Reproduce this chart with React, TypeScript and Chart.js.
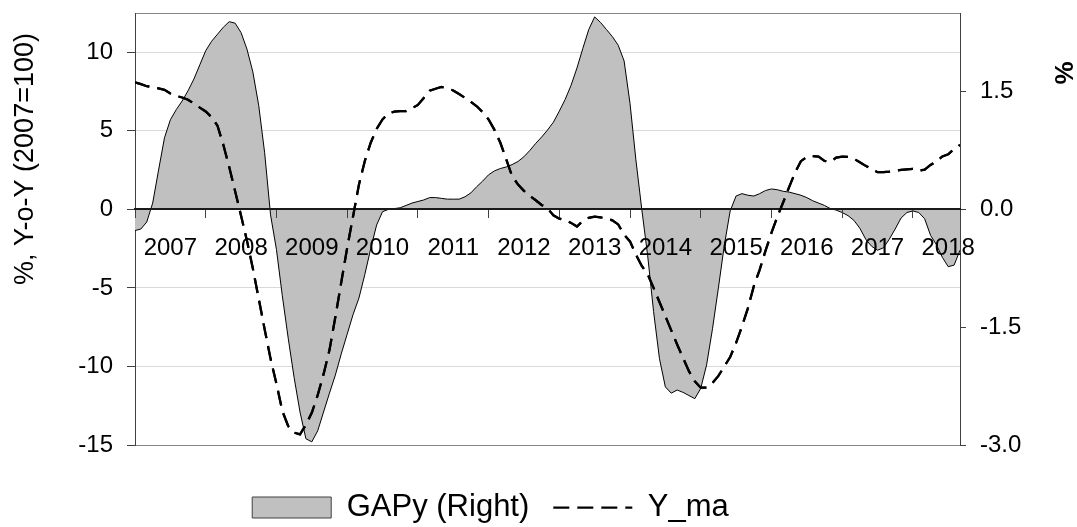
import React, { useEffect, useRef } from 'react';
import { Chart, registerables } from 'chart.js';

Chart.register(...registerables);

const FONT = '"Liberation Sans", Arial, Helvetica, sans-serif';

// Year categories (one label per year, 12 monthly points per year)
const years = ['2007', '2008', '2009', '2010', '2011', '2012', '2013', '2014', '2015', '2016', '2017', '2018'];
const monthsPerYear = 12;

// GAPy (right axis, %) – monthly from Jan 2007
const gapy = [
  -0.27, -0.25, -0.16, 0.08, 0.5, 0.91, 1.14, 1.27, 1.38, 1.51,
  1.66, 1.84, 2.02, 2.14, 2.23, 2.32, 2.39, 2.37, 2.25, 2.04,
  1.75, 1.32, 0.72, -0.07, -0.51, -1.1, -1.64, -2.14, -2.58, -2.92,
  -2.96, -2.82, -2.58, -2.34, -2.11, -1.84, -1.59, -1.34, -1.13, -0.83,
  -0.5, -0.2, -0.03, 0.0, 0.01, 0.02, 0.05, 0.08, 0.1, 0.12,
  0.15, 0.15, 0.14, 0.13, 0.13, 0.13, 0.16, 0.21, 0.29, 0.36,
  0.44, 0.49, 0.52, 0.54, 0.57, 0.61, 0.67, 0.75, 0.84, 0.92,
  1.01, 1.11, 1.25, 1.4, 1.58, 1.8, 2.05, 2.29, 2.45, 2.38,
  2.29, 2.2, 2.09, 1.89, 1.35, 0.63, 0.0, -0.59, -1.3, -1.9,
  -2.26, -2.34, -2.3, -2.33, -2.37, -2.41, -2.28, -1.98, -1.52, -1.0,
  -0.46, -0.02, 0.17, 0.2, 0.18, 0.17, 0.2, 0.24, 0.26, 0.25,
  0.23, 0.22, 0.2, 0.18, 0.15, 0.11, 0.08, 0.05, 0.01, -0.01,
  -0.04, -0.08, -0.14, -0.24, -0.38, -0.47, -0.52, -0.49, -0.38, -0.25,
  -0.11, -0.04, -0.02, -0.04, -0.12, -0.33, -0.45, -0.61, -0.73, -0.71,
  -0.52,
];

// Y_ma (left axis, % y-o-y) – monthly from Jan 2007
const yma = [
  8.08, 7.97, 7.84, 7.77, 7.7, 7.61, 7.38, 7.22, 7.12, 6.98,
  6.73, 6.48, 6.23, 5.87, 5.32, 4.1, 2.68, 1.14, -0.41, -1.99,
  -3.76, -5.7, -7.63, -9.5, -11.1, -12.83, -13.8, -14.21, -14.32, -13.72,
  -12.95, -11.83, -10.49, -8.96, -6.85, -4.65, -2.46, -0.45, 1.57, 3.08,
  4.24, 5.12, 5.73, 6.1, 6.22, 6.26, 6.26, 6.43, 6.65, 7.09,
  7.55, 7.68, 7.79, 7.7, 7.57, 7.34, 7.1, 6.84, 6.56, 6.19,
  5.72, 5.06, 4.24, 3.18, 2.11, 1.58, 1.18, 0.86, 0.58, 0.28,
  0.07, -0.38, -0.59, -0.69, -0.86, -1.09, -0.74, -0.54, -0.47, -0.51,
  -0.58, -0.7, -0.96, -1.62, -2.04, -2.88, -3.6, -4.13, -5.0, -5.9,
  -6.8, -7.7, -8.6, -9.45, -10.3, -10.95, -11.35, -11.35, -11.05, -10.6,
  -10.0, -9.4, -8.5, -7.45, -6.3, -4.9, -3.85, -2.63, -1.5, -0.47,
  0.45, 1.42, 2.33, 3.07, 3.34, 3.39, 3.36, 3.09, 3.03, 3.29,
  3.36, 3.34, 3.22, 3.0, 2.77, 2.56, 2.37, 2.37, 2.4, 2.45,
  2.51, 2.55, 2.58, 2.46, 2.53, 2.83, 3.05, 3.37, 3.5, 3.85,
  4.1,
];

const leftTicks = [-15, -10, -5, 0, 5, 10];
const leftRange = [-15, 12.5];
const rightTicks = [-3, -1.5, 0, 1.5];
const rightRange = [-3, 2.5];

const seriesNames = ['GAPy (Right)', 'Y_ma'];
const leftTitle = '%, Y-o-Y (2007=100)';
const rightTitle = '%';

const zeroPad = (s: any) => {
  s.paddingTop = 0;
  s.paddingBottom = 0;
  s.paddingLeft = 0;
  s.paddingRight = 0;
};

const toPoints = (arr: number[]) => arr.map((v, i) => ({ x: i, y: v }));

// Axis titles, plus the dashed series re-stroked above the year labels (as in the original)
const overlayPlugin = {
  id: 'overlay',
  afterDraw(chart: any) {
    const { ctx, chartArea } = chart;

    const meta = chart.getDatasetMeta(0);
    if (meta && meta.dataset) {
      ctx.save();
      ctx.beginPath();
      ctx.rect(chartArea.left, chartArea.top, chartArea.right - chartArea.left, chartArea.bottom - chartArea.top);
      ctx.clip();
      meta.dataset.draw(ctx, chartArea);
      ctx.restore();
    }

    ctx.save();
    ctx.fillStyle = '#000';
    ctx.textAlign = 'center';
    ctx.textBaseline = 'middle';
    ctx.font = `27px ${FONT}`;
    ctx.translate(26, chartArea.top + 146);
    ctx.rotate(-Math.PI / 2);
    ctx.fillText(leftTitle, 0, 0);
    ctx.restore();

    ctx.save();
    ctx.fillStyle = '#000';
    ctx.textAlign = 'center';
    ctx.textBaseline = 'middle';
    ctx.font = `bold 26px ${FONT}`;
    ctx.translate(chart.width - 11, chartArea.top + 60);
    ctx.rotate(-Math.PI / 2);
    ctx.fillText(rightTitle, 0, 0);
    ctx.restore();
  },
};

export default function App() {
  const canvasRef = useRef<HTMLCanvasElement | null>(null);

  useEffect(() => {
    if (!canvasRef.current) return;
    const lastMonth = gapy.length - 1;
    const tickFont = { family: FONT, size: 24 };

    const chart = new Chart(canvasRef.current, {
      type: 'line',
      data: {
        datasets: [
          {
            label: seriesNames[1],
            data: toPoints(yma),
            xAxisID: 'x',
            yAxisID: 'y',
            borderColor: '#000000',
            borderWidth: 2.25,
            borderDash: [15, 8],
            borderCapStyle: 'butt',
            pointRadius: 0,
            fill: false,
            tension: 0,
          },
          {
            label: seriesNames[0],
            data: toPoints(gapy),
            xAxisID: 'x',
            yAxisID: 'y1',
            borderColor: '#000000',
            borderWidth: 1,
            backgroundColor: '#c0c0c0',
            fill: 'origin',
            pointRadius: 0,
            tension: 0,
          },
        ],
      },
      options: {
        animation: false,
        responsive: true,
        maintainAspectRatio: false,
        layout: { padding: { top: 13, left: 0, right: 96, bottom: -6 } },
        plugins: {
          tooltip: { enabled: false },
          legend: {
            display: true,
            position: 'bottom',
            align: 'center',
            labels: {
              usePointStyle: true,
              pointStyleWidth: 79,
              boxHeight: 21,
              padding: 24,
              color: '#000',
              font: { family: FONT, size: 31 },
              generateLabels: () => [
                {
                  text: seriesNames[0],
                  fillStyle: '#c0c0c0',
                  strokeStyle: '#404040',
                  lineWidth: 1,
                  pointStyle: 'rect',
                  hidden: false,
                  datasetIndex: 1,
                  lineDash: [],
                },
                {
                  text: seriesNames[1],
                  fillStyle: 'rgba(0,0,0,0)',
                  strokeStyle: '#000',
                  lineWidth: 2.25,
                  pointStyle: 'line',
                  hidden: false,
                  datasetIndex: 0,
                  lineDash: [16, 8],
                },
              ],
            },
          },
        },
        scales: {
          x: {
            type: 'linear',
            axis: 'x',
            position: { y: 0 },
            min: 0,
            max: lastMonth,
            afterBuildTicks: (s: any) => {
              s.ticks = years.map((_, i) => ({ value: i * monthsPerYear }));
            },
            afterFit: zeroPad,
            ticks: { display: false },
            grid: {
              display: true,
              drawOnChartArea: false,
              drawTicks: true,
              tickLength: 8,
              tickColor: '#404040',
              tickWidth: 1,
              z: 1,
            },
            border: { display: true, color: '#1a1a1a', width: 2, z: 1 },
          },
          xl: {
            type: 'linear',
            axis: 'x',
            position: { y: 0 },
            min: 0,
            max: lastMonth,
            afterBuildTicks: (s: any) => {
              s.ticks = years.map((_, i) => ({ value: i * monthsPerYear + monthsPerYear / 2 }));
            },
            afterFit: zeroPad,
            ticks: {
              autoSkip: false,
              maxRotation: 0,
              minRotation: 0,
              padding: 25,
              color: '#000',
              font: tickFont,
              z: 1,
              callback: (_v: any, i: number) => years[i],
            },
            grid: { display: false, drawTicks: false },
            border: { display: false },
          },
          xpad: {
            type: 'linear',
            axis: 'x',
            position: 'bottom',
            display: true,
            ticks: { display: false },
            grid: { display: false, drawTicks: false },
            border: { display: false },
            afterFit: (s: any) => {
              zeroPad(s);
              s.height = 23;
            },
          },
          y: {
            type: 'linear',
            position: 'left',
            min: leftRange[0],
            max: leftRange[1],
            afterBuildTicks: (s: any) => {
              s.ticks = [...leftTicks, leftRange[1]].map((v) => ({ value: v }));
            },
            afterFit: (s: any) => {
              zeroPad(s);
              s.width = 135;
            },
            ticks: {
              padding: 14,
              color: '#000',
              font: tickFont,
              callback: (v: any) => (leftTicks.includes(Number(v)) ? String(v) : ''),
            },
            grid: {
              color: (ctx: any) =>
                ctx.tick && (ctx.tick.value === leftRange[0] || ctx.tick.value === leftRange[1])
                  ? '#868686'
                  : '#d9d9d9',
              lineWidth: 1,
              drawTicks: true,
              tickLength: 8,
              tickColor: (ctx: any) =>
                ctx.tick && ctx.tick.value === leftRange[1] ? 'rgba(0,0,0,0)' : '#404040',
            },
            border: { display: true, color: '#404040', width: 1 },
          },
          y1: {
            type: 'linear',
            position: 'right',
            min: rightRange[0],
            max: rightRange[1],
            afterBuildTicks: (s: any) => {
              s.ticks = rightTicks.map((v) => ({ value: v }));
            },
            afterFit: (s: any) => {
              zeroPad(s);
              s.width = 21;
              // labels extend past the narrow axis box; don't clip them to it
              s._computeLabelArea = () => undefined;
            },
            ticks: {
              padding: 14,
              color: '#000',
              font: tickFont,
              callback: (v: any) => Number(v).toFixed(1),
            },
            grid: {
              drawOnChartArea: false,
              drawTicks: true,
              tickLength: 6,
              tickColor: '#404040',
            },
            border: { display: true, color: '#404040', width: 1 },
          },
        },
      } as any,
      plugins: [overlayPlugin],
    } as any);

    return () => chart.destroy();
  }, []);

  return (
    <div style={{ position: 'absolute', left: 0, top: 0, width: 1077, height: 527, background: '#fff' }}>
      <canvas ref={canvasRef} />
    </div>
  );
}
